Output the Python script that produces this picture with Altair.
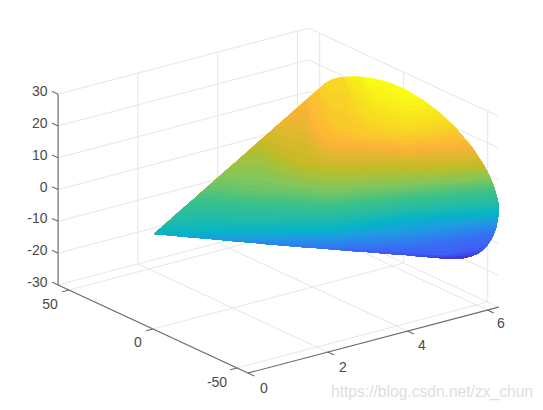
import altair as alt
import numpy as np
import pandas as pd

alt.data_transformers.disable_max_rows()

# ---- axis values ----
X_TICKS = [0, 2, 4, 6]
Y_TICKS = [50, 0, -50]
Z_TICKS = [-30, -20, -10, 0, 10, 20, 30]
X_MAX = 6.283
Y_LIM = 56.5
Z_LIM = 30
WATERMARK = "https://blog.csdn.net/zx_chun"

# ---- view of the 3-D box ----
ORIGIN = (153.0, 329.0)          # x=0, y=0, z=-30
X_STEP = (39.9, -10.5)
Y_STEP = (-1.68, -0.78)
Z_STEP = (0.0, -3.18)


def proj(x, y, z):
    return (ORIGIN[0] + x * X_STEP[0] + y * Y_STEP[0],
            ORIGIN[1] + x * X_STEP[1] + y * Y_STEP[1] + (z + 30) * Z_STEP[1])


# ---- outline of the surface ----
TOP_X = [154, 318, 325, 332, 342, 355, 372, 389, 405, 422, 439, 455, 472, 485, 490, 494, 497, 498.5, 498.8]
TOP_Y = [234, 89.5, 83.5, 79.5, 77, 76, 78, 82, 89, 99, 112, 127, 147, 167, 177, 187, 197, 204, 208]
BOT_X = [154, 272, 339, 405, 445, 458, 465, 472, 479, 485, 489, 493, 496, 498, 498.8]
BOT_Y = [234, 244.5, 250, 255, 258.5, 258.5, 258, 256, 253, 248, 243, 236, 228, 219, 208]

# ---- colour landmarks: contour position for some colour levels ----
CONTOURS = [
    (1.00, [385, 400, 412], [80, 90, 93]),
    (0.96, [362, 372, 405, 430], [76, 95, 108, 106]),
    (0.90, [343, 352, 368, 408, 450], [77, 100, 120, 130, 122]),
    (0.85, [318, 322, 335, 360, 408, 462], [86, 105, 125, 136, 139, 133]),
    (0.80, [308, 310, 317, 330, 408, 470], [99, 115, 130, 141, 147, 143]),
    (0.70, [262, 270, 285, 305, 330, 408, 488], [141, 148, 157, 164, 167, 167, 165]),
    (0.55, [212, 235, 283, 330, 408, 492], [187, 190, 193, 196, 190, 183]),
    (0.35, [154, 330, 408, 498], [233, 229, 218, 212]),
    (0.17, [330, 408, 498], [248, 246, 232]),
    (0.12, [390, 445, 490], [252, 255, 246]),
    (0.03, [430, 450, 475], [258, 258, 256.5]),
    (0.00, [450], [260]),
]

# parula colour map stops
MAP_T = [0, .07, .14, .21, .28, .35, .42, .5, .6, .7, .8, .9, 1]
MAP_C = ["#3e26a8", "#4543e6", "#3f62f6", "#2d80f0", "#1f9ce0", "#05b3c8", "#22bba8",
         "#3cc188", "#84c75a", "#c0bc26", "#fdb338", "#f8d623", "#f9fb15"]


def parula(t):
    rgb = [[int(c[i:i + 2], 16) for i in (1, 3, 5)] for c in MAP_C]
    return "#%02x%02x%02x" % tuple(int(round(np.interp(t, MAP_T, [r[k] for r in rgb]))) for k in range(3))


xs = np.unique(np.concatenate([np.arange(154, 490, 3.0), np.arange(490, 498.8, 0.6), [498.8]]))
top = np.interp(xs, TOP_X, TOP_Y)
bot = np.interp(xs, BOT_X, BOT_Y)
known_v = np.array([c[0] for c in CONTOURS])[::-1]
known_y = np.array([np.interp(xs, c[1], c[2]) for c in CONTOURS])[::-1]
levels = np.linspace(1, 0, 61)
rows = []
names, colors = [], []
for i, lv in enumerate(levels):
    name = f"L{i:02d}"
    names.append(name)
    colors.append(parula(lv))
    for j, xv in enumerate(xs):
        yv = top[j] if i == 0 else float(np.clip(np.interp(lv, known_v, known_y[:, j]), top[j], bot[j]))
        rows.append({"x": round(float(xv), 2), "y": round(float(yv), 2), "y2": round(float(bot[j]), 2), "lev": name})
surface = pd.DataFrame(rows)

# ---- box grid ----
lines = []


def seg(kind, a, b):
    n = len(lines)
    lines.append({"id": n, "kind": kind, "x": proj(*a)[0], "y": proj(*a)[1]})
    lines.append({"id": n, "kind": kind, "x": proj(*b)[0], "y": proj(*b)[1]})


for z in Z_TICKS:
    seg("grid", (0, Y_LIM, z), (X_MAX, Y_LIM, z))
    seg("grid", (X_MAX, Y_LIM, z), (X_MAX, -Y_LIM, z))
for x in X_TICKS:
    seg("grid", (x, Y_LIM, -Z_LIM), (x, Y_LIM, Z_LIM))
    seg("grid", (x, Y_LIM, -Z_LIM), (x, -Y_LIM, -Z_LIM))
for y in Y_TICKS:
    seg("grid", (X_MAX, y, -Z_LIM), (X_MAX, y, Z_LIM))
    seg("grid", (0, y, -Z_LIM), (X_MAX, y, -Z_LIM))
seg("axis", (0, Y_LIM, -Z_LIM), (0, Y_LIM, Z_LIM))
seg("axis", (0, Y_LIM, -Z_LIM), (0, -Y_LIM, -Z_LIM))
seg("axis", (0, -Y_LIM, -Z_LIM), (X_MAX, -Y_LIM, -Z_LIM))
for z in Z_TICKS:
    seg("axis", (0, Y_LIM, z), (0, Y_LIM + 3.6, z))
for y in Y_TICKS:
    seg("axis", (0, y, -Z_LIM), (-0.17, y, -Z_LIM))
for x in X_TICKS:
    seg("axis", (x, -Y_LIM, -Z_LIM), (x, -Y_LIM - 3.8, -Z_LIM))
lines = pd.DataFrame(lines)

# ---- labels ----
labels = []
for z in Z_TICKS:
    px, py = proj(0, Y_LIM, z)
    labels.append({"t": str(z), "x": 47.5, "y": py - 2, "c": 0})
for y, (lx, ly) in zip(Y_TICKS, [(50, 305), (138, 343), (217, 383)]):
    labels.append({"t": str(y), "x": lx, "y": ly, "c": 1})
for x, (lx, ly) in zip(X_TICKS, [(264, 389), (343, 368), (422, 346), (501, 324)]):
    labels.append({"t": str(x), "x": lx, "y": ly, "c": 1})
labels = pd.DataFrame(labels)

sx = alt.Scale(domain=[8, 535], range=[0, 527], nice=False, zero=False)
sy = alt.Scale(domain=[8, 402], range=[0, 394], nice=False, zero=False)
X = alt.X("x:Q", scale=sx, axis=None)
Y = alt.Y("y:Q", scale=sy, axis=None)

grid = alt.Chart(lines[lines.kind == "grid"]).mark_line(color="#e6e6e6", strokeWidth=1).encode(
    x=X, y=Y, detail="id:N")
surf = alt.Chart(surface).mark_area().encode(
    x=X, y=alt.Y("y:Q", scale=sy, axis=None, stack=None), y2="y2:Q",
    color=alt.Color("lev:N", scale=alt.Scale(domain=names, range=colors), legend=None))
axes = alt.Chart(lines[lines.kind == "axis"]).mark_line(color="#6a6a6a", strokeWidth=1.1).encode(
    x=X, y=Y, detail="id:N")
txt_r = alt.Chart(labels[labels.c == 0]).mark_text(
    font="Liberation Sans", fontSize=14, color="#4a4a4a", align="right", baseline="middle").encode(
    x=X, y=Y, text="t:N")
txt_c = alt.Chart(labels[labels.c == 1]).mark_text(
    font="Liberation Sans", fontSize=14, color="#4a4a4a", align="center", baseline="middle").encode(
    x=X, y=Y, text="t:N")
mark = alt.Chart(pd.DataFrame({"t": [WATERMARK], "x": [432], "y": [392]})).mark_text(
    font="Liberation Sans", fontSize=15.6, color="#dedede", align="center", baseline="middle").encode(
    x=X, y=Y, text="t:N")

chart = (grid + surf + axes + txt_r + txt_c + mark).properties(
    width=527, height=394, padding=0, autosize=alt.AutoSizeParams(type="none")
).configure_view(stroke=None)
chart.save("out.html", embed_options={"renderer": "svg", "actions": False})
